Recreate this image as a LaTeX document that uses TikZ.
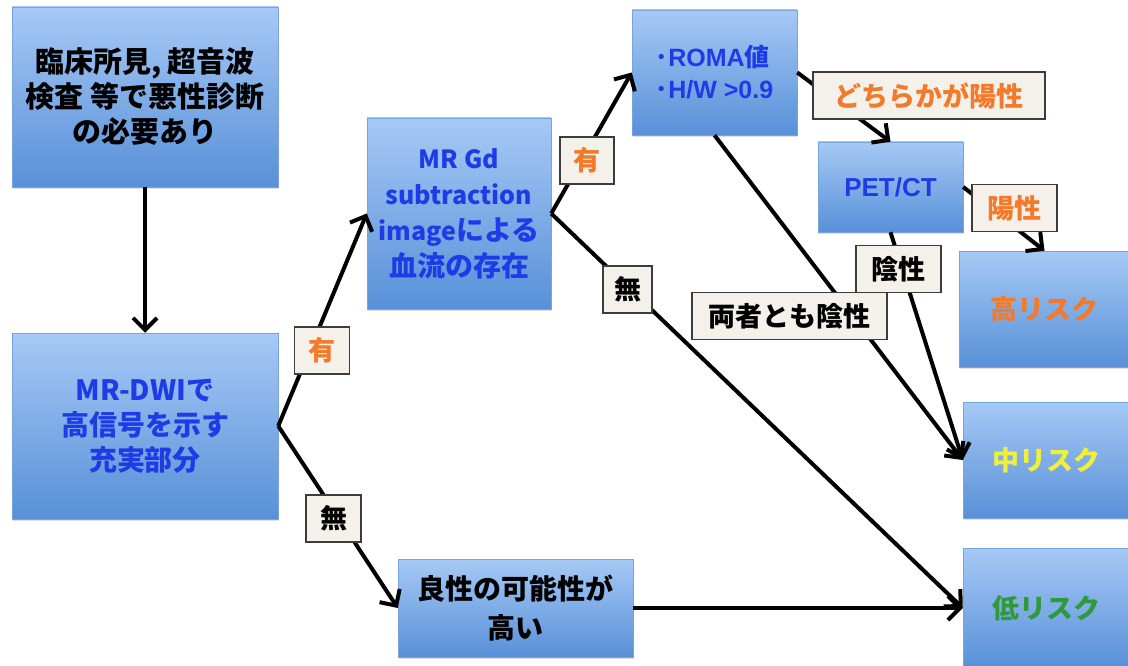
\documentclass[tikz,border=0pt]{standalone}
\usepackage{fontspec}
\setmainfont{Noto Sans CJK JP}
\newfontfamily\arial{Liberation Sans}
\usetikzlibrary{arrows.meta,shadows}

\definecolor{boxtop}{HTML}{A6C9F5}
\definecolor{boxbot}{HTML}{5890D8}
\definecolor{boxedge}{HTML}{7AA3DA}
\definecolor{txtblue}{HTML}{1E3CE6}
\definecolor{txtorange}{HTML}{F27A2A}
\definecolor{txtyellow}{HTML}{F0F03A}
\definecolor{txtgreen}{HTML}{2E9A3C}
\definecolor{tagfill}{HTML}{F3F1EA}
\definecolor{tagedge}{HTML}{3C3C3C}

\newcommand{\latinpart}[1]{{\fontsize{25}{36}\selectfont #1}}

\begin{document}
\begin{tikzpicture}[x=1pt,y=-1pt,
  box/.style={rectangle, top color=boxtop, bottom color=boxbot, draw=boxedge,
    line width=0.5pt, inner sep=0pt, align=center,
    font=\bfseries\fontsize{28}{35}\selectfont,
    drop shadow={shadow xshift=1pt, shadow yshift=-2pt, opacity=0.25}},
  tag/.style={rectangle, draw=tagedge, fill=tagfill, line width=1.3pt,
    inner sep=0pt, minimum height=47pt,
    font=\bfseries\fontsize{27}{30}\selectfont},
  arr/.style={line width=4pt, -{Straight Barb[length=12pt,width=24pt]}}
]
\useasboundingbox (0,0) rectangle (1128,666);

% decision and result boxes
\node[box, minimum width=266pt, minimum height=180pt,
  font=\bfseries\fontsize{29}{35}\selectfont] (a) at (145,97)
  {臨床所見, 超音波\\検査 等で悪性診断\\の必要あり};
\node[box, minimum width=266pt, minimum height=186pt, text=txtblue] (b) at (145,426)
  {MR-DWIで\\高信号を示す\\充実部分};
\node[box, minimum width=184pt, minimum height=191pt, text=txtblue,
  font=\bfseries\fontsize{28}{36}\selectfont] (c) at (459,213.5)
  {\latinpart{MR Gd}\\\latinpart{subtraction}\\\latinpart{image}による\\血流の存在};
\node[box, minimum width=235pt, minimum height=98pt,
  font=\bfseries\fontsize{28}{39}\selectfont] (d) at (515.5,608)
  {良性の可能性が\\高い};
\node[box, minimum width=165pt, minimum height=125pt, text=txtblue, align=left,
  font=\bfseries\fontsize{25}{32}\selectfont] (e) at (714.5,72.5)
  {･{\arial ROMA}値\\･{\arial H/W >0.9}};
\node[box, minimum width=145pt, minimum height=90pt, text=txtblue,
  font=\bfseries\arial\fontsize{26}{30}\selectfont] (f) at (890.5,187) {PET/CT};
\node[box, minimum width=171pt, minimum height=116pt, text=txtorange,
  font=\bfseries\fontsize{27}{30}\selectfont] (g) at (1044.5,309) {高リスク};
\node[box, minimum width=167pt, minimum height=116pt, text=txtyellow,
  font=\bfseries\fontsize{27}{30}\selectfont] (h) at (1046.5,460) {中リスク};
\node[box, minimum width=167pt, minimum height=120pt, text=txtgreen,
  font=\bfseries\fontsize{27}{30}\selectfont] (i) at (1046.5,608) {低リスク};

% connectors
\draw[arr] (a.south) -- (b.north);
\draw[arr] (b.east) -- (c.west);
\draw[arr] (b.east) -- (d.west);
\draw[arr] (c.east) -- (e.west);
\draw[arr] (c.east) -- (i.west);
\draw[arr] (d.east) -- (i.west);
\draw[arr] (e.east) -- (f.north);
\draw[arr] (e.south) -- (h.west);
\draw[arr] (f.east) -- (g.north);
\draw[arr] (f.south) -- (h.west);

% branch labels
\node[tag, minimum width=55pt, text=txtorange] (t1) at (322,350.5) {有};
\node[tag, minimum width=55pt] (t2) at (333.5,518.5) {無};
\node[tag, minimum width=54pt, text=txtorange] (t3) at (587,160.5) {有};
\node[tag, minimum width=49pt] (t4) at (627.5,289.5) {無};
\node[tag, minimum width=232pt, text=txtorange] (t5) at (929,95.5) {どちらかが陽性};
\node[tag, minimum width=85pt, text=txtorange] (t6) at (1014.5,208) {陽性};
\node[tag, minimum width=195pt] (t7) at (789.5,316) {両者とも陰性};
\node[tag, minimum width=85pt] (t8) at (898.5,269) {陰性};
\end{tikzpicture}
\end{document}
